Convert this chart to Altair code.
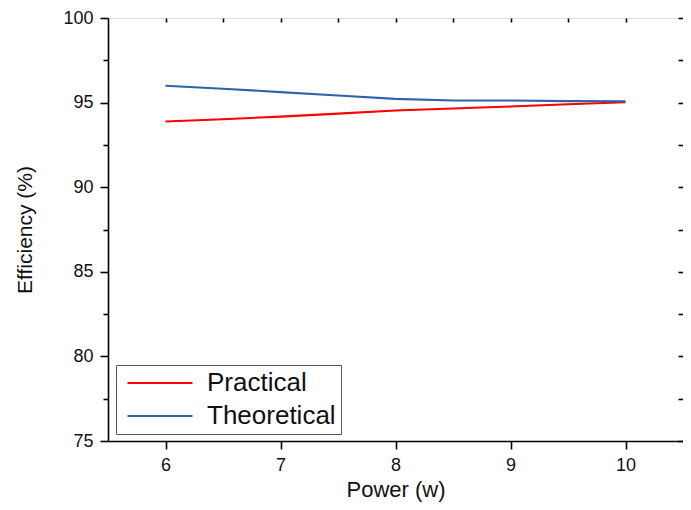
import altair as alt
import pandas as pd

power = [6, 6.5, 7, 7.5, 8, 8.5, 9, 9.5, 10]
practical = [93.88, 94.02, 94.17, 94.35, 94.53, 94.65, 94.77, 94.90, 95.02]
theoretical = [96.0, 95.82, 95.62, 95.42, 95.22, 95.12, 95.12, 95.09, 95.08]
series_names = ["Practical", "Theoretical"]
series_colors = ["#ff0000", "#2e63a8"]

x_ticks = [6, 6.5, 7, 7.5, 8, 8.5, 9, 9.5, 10]
y_ticks = [75, 77.5, 80, 82.5, 85, 87.5, 90, 92.5, 95, 97.5, 100]

df = pd.DataFrame(
    {"Power": power * 2,
     "Efficiency": practical + theoretical,
     "Series": [series_names[0]] * len(power) + [series_names[1]] * len(power)}
)

FONT = "Liberation Sans"
xscale = alt.Scale(domain=[5.5, 10.5], nice=False, zero=False)
yscale = alt.Scale(domain=[75, 100], nice=False, zero=False)

x_bottom = alt.Axis(
    values=x_ticks, orient="bottom", title="Power (w)", format="d",
    labelExpr="datum.value % 1 === 0 ? datum.label : ''", labelOverlap=False,
    tickSize={"condition": {"test": "datum.value % 1 === 0", "value": 8}, "value": 5},
    grid=False, labelFontSize=18, titleFontSize=22, titleFontWeight="normal",
    labelPadding=7, titlePadding=5, labelFont=FONT, titleFont=FONT,
    domainColor="black", tickColor="black", domainWidth=1.6, tickWidth=1.6,
    labelColor="#111", titleColor="#111",
)
y_left = alt.Axis(
    values=y_ticks, orient="left", title="Efficiency (%)", format="d",
    labelExpr="datum.value % 5 === 0 ? datum.label : ''", labelOverlap=False,
    tickSize={"condition": {"test": "datum.value % 5 === 0", "value": 8}, "value": 5},
    grid=False, labelFontSize=18, titleFontSize=21, titleFontWeight="normal",
    labelPadding=7, titlePadding=27, labelFont=FONT, titleFont=FONT,
    domainColor="black", tickColor="black", domainWidth=1.6, tickWidth=1.6,
    labelColor="#111", titleColor="#111",
)
x_top = alt.Axis(
    values=x_ticks, orient="top", title=None, labels=False, domain=False,
    tickSize=4, offset=-4, grid=False, tickColor="black", tickWidth=1.6,
)
y_right = alt.Axis(
    values=y_ticks, orient="right", title=None, labels=False, domain=False,
    tickSize=5, offset=-5, grid=False, tickColor="black", tickWidth=1.6,
)

color = alt.Color(
    "Series:N",
    scale=alt.Scale(domain=series_names, range=series_colors),
    legend=alt.Legend(
        title=None, orient="none", legendX=8, legendY=347,
        symbolType="M-5,0H5", symbolSize=169, symbolStrokeWidth=2,
        symbolOffset=26,
        labelFontSize=26, labelFont=FONT, labelColor="#111",
        strokeColor="#555", padding=5, rowPadding=7, labelOffset=34,
        fillColor="white",
    ),
)

base = alt.Chart(df)
lines = base.mark_line(strokeWidth=2.1).encode(
    x=alt.X("Power:Q", scale=xscale, axis=x_bottom),
    y=alt.Y("Efficiency:Q", scale=yscale, axis=y_left),
    color=color,
    detail="Series:N",
)
mirror = base.mark_line(opacity=0).encode(
    x=alt.X("Power:Q", scale=xscale, axis=x_top),
    y=alt.Y("Efficiency:Q", scale=yscale, axis=y_right),
    detail="Series:N",
)

chart = (
    alt.layer(lines, mirror)
    .resolve_axis(x="independent", y="independent")
    .properties(
        width=575, height=423,
        autosize=alt.AutoSizeParams(type="none"),
        padding={"left": 100, "top": 10, "right": 0, "bottom": 61},
    )
    .configure_view(stroke="black", strokeWidth=1.6)
    .configure(background="white")
)

chart.save("out.html", embed_options={"renderer": "svg", "actions": False})
